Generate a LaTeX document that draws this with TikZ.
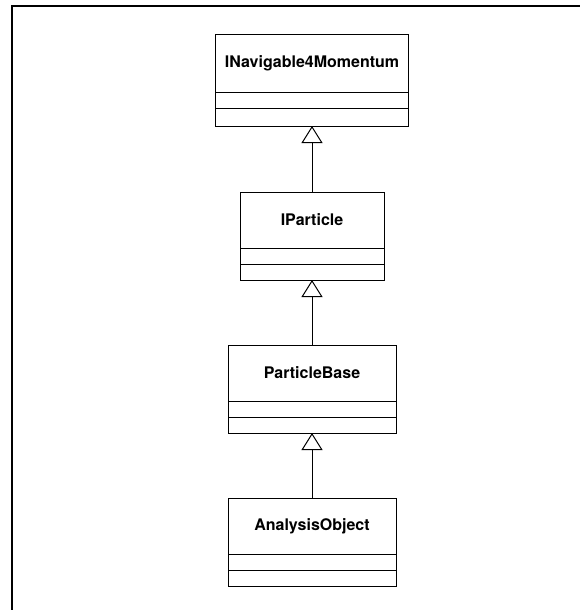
\documentclass[tikz,border=0pt]{standalone}
\usepackage{fontspec}
\setmainfont{TeX Gyre Heros}
\usetikzlibrary{positioning,arrows.meta}

\tikzset{
  classname/.style={draw, line width=1pt, minimum height=56pt, inner sep=0pt, outer sep=0pt, font=\fontsize{16}{19}\selectfont\bfseries},
  classpart/.style={draw, line width=1pt, minimum height=16pt, inner sep=0pt, outer sep=0pt},
  inherit/.style={line width=1pt, -{Triangle[open, length=17pt, width=21pt]}}
}

\begin{document}
\begin{tikzpicture}[x=1pt,y=-1pt]
        \useasboundingbox (0,0) rectangle (580,610);
        \draw[line width=2pt] (12,610) -- (12,6) -- (580,6);

        \node[classname, minimum width=193pt, minimum height=57pt] (nav) at (312,63.5) {INavigable4Momentum};
        \node[classpart, minimum width=193pt, below=0pt of nav] (nav1) {};
        \node[classpart, minimum width=193pt, minimum height=18pt, below=0pt of nav1] (nav2) {};

        \node[classname, minimum width=144pt] (ipart) at (312,220) {IParticle};
        \node[classpart, minimum width=144pt, below=0pt of ipart] (ipart1) {};
        \node[classpart, minimum width=144pt, below=0pt of ipart1] (ipart2) {};

        \node[classname, minimum width=168pt] (pbase) at (312,373) {ParticleBase};
        \node[classpart, minimum width=168pt, below=0pt of pbase] (pbase1) {};
        \node[classpart, minimum width=168pt, below=0pt of pbase1] (pbase2) {};

        \node[classname, minimum width=168pt] (aobj) at (312,526) {AnalysisObject};
        \node[classpart, minimum width=168pt, below=0pt of aobj] (aobj1) {};
        \node[classpart, minimum width=168pt, below=0pt of aobj1] (aobj2) {};

        \draw[inherit] (ipart.north) -- (nav2.south);
        \draw[inherit] (pbase.north) -- (ipart2.south);
        \draw[inherit] (aobj.north) -- (pbase2.south);
\end{tikzpicture}
\end{document}
